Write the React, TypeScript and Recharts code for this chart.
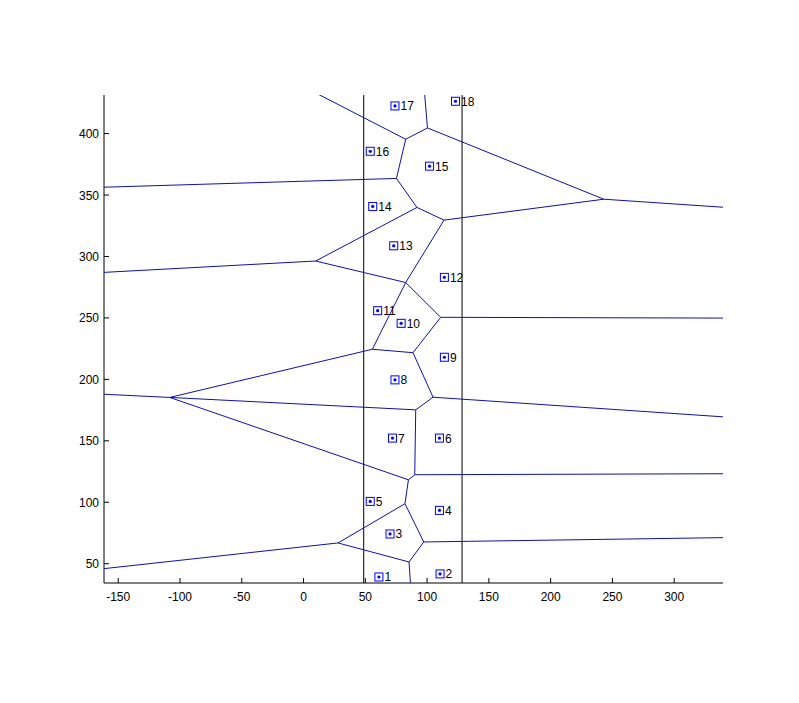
import { ScatterChart, Scatter, XAxis, YAxis, ReferenceLine } from "recharts";

// sites (generator points), numbered 1..18
const siteLabels = ["1", "2", "3", "4", "5", "6", "7", "8", "9", "10", "11", "12", "13", "14", "15", "16", "17", "18"];
const siteX = [61, 110.5, 70, 110, 54, 110, 72, 74, 114, 79, 60, 114, 73, 56, 102, 54, 74, 123];
const siteY = [39.2, 41.7, 74.2, 93.4, 100.7, 152.2, 152.2, 199.6, 218, 245.6, 255.9, 283, 308.7, 340.7, 373.5, 385.6, 422.5, 426.3];

// voronoi vertices (0..19 inside, 20..31 far ends of open edges)
const vertexX = [
  82.7, 100.3, 243, 75.2, 91.8, 113.7, 9.8, 82.7, 111, 55.7, 88.6, -108.3, 104.8, 90.8, 90, 84.9, 82.1, 97.3, 27.9, 85.4,
  -21.7, 95.9, -250, 400, -250, 400, 400, 400, -250, 400, -250, 87.5,
];
const vertexY = [
  395.4, 404.6, 346.6, 363.5, 339.9, 329.6, 296.3, 278.8, 250.5, 224.5, 221.7, 185.3, 185.5, 175.2, 122.4, 118.3, 98.8, 67.7, 66.9, 51.4,
  449.4, 458, 353.7, 336, 282.3, 249.7, 165.4, 123.4, 192.2, 72.1, 36.2, 18,
];
const edges = [
  [0, 20], [1, 21], [0, 1], [1, 2], [0, 3], [3, 22], [3, 4], [4, 5], [5, 2], [2, 23],
  [4, 6], [6, 24], [6, 7], [5, 7], [7, 8], [8, 25], [7, 9], [8, 10], [9, 10], [9, 11],
  [10, 12], [12, 26], [12, 13], [13, 11], [13, 14], [14, 27], [14, 15], [15, 11], [11, 28],
  [15, 16], [16, 17], [16, 18], [17, 29], [18, 30], [18, 19], [17, 19], [19, 31],
];

const boundsX = [48.7, 128.3];

const xTicks = [-150, -100, -50, 0, 50, 100, 150, 200, 250, 300];
const yTicks = [50, 100, 150, 200, 250, 300, 350, 400];

const FONT = '"Liberation Sans", Arial, sans-serif';
const EDGE = "#1010a8";
const MARK = "#0000ff";

const sites = siteX.map((x, i) => ({ x, y: siteY[i], label: siteLabels[i] }));
const segments = edges.map(([a, b]) => [
  { x: vertexX[a], y: vertexY[a] },
  { x: vertexX[b], y: vertexY[b] },
]);

function XTick({ x, y, payload }: any) {
  return (
    <g>
      <line x1={x} y1={y} x2={x} y2={y - 5} stroke="#000" />
      <text x={x} y={y + 18} textAnchor="middle" fontSize={12} fontFamily={FONT} fill="#000">
        {payload.value}
      </text>
    </g>
  );
}

function YTick({ x, y, payload }: any) {
  return (
    <g>
      <line x1={x} y1={y} x2={x + 5} y2={y} stroke="#000" />
      <text x={x - 5} y={y + 4.5} textAnchor="end" fontSize={12} fontFamily={FONT} fill="#000">
        {payload.value}
      </text>
    </g>
  );
}

function SiteMarker({ cx, cy, payload }: any) {
  return (
    <g>
      <rect x={cx - 4} y={cy - 4} width={8} height={8} fill="none" stroke={MARK} />
      <circle cx={cx} cy={cy} r={1.6} fill={MARK} />
      <text x={cx + 5.5} y={cy + 4.5} fontSize={12} fontFamily={FONT} fill="#000">
        {payload.label}
      </text>
    </g>
  );
}

export default function App() {
  return (
    <div style={{ width: 780, height: 680, background: "#fff" }}>
      <ScatterChart width={780} height={680} margin={{ top: 87, right: 65, bottom: 75, left: 0 }}>
        <XAxis
          type="number"
          dataKey="x"
          domain={[-161.5, 339.5]}
          ticks={xTicks}
          allowDataOverflow
          height={30}
          tickSize={0}
          tickMargin={0}
          axisLine={{ stroke: "#000" }}
          tick={<XTick />}
        />
        <YAxis
          type="number"
          dataKey="y"
          domain={[34.3, 431.4]}
          ticks={yTicks}
          allowDataOverflow
          width={96}
          tickSize={0}
          tickMargin={0}
          axisLine={{ stroke: "#000" }}
          tick={<YTick />}
        />
        {boundsX.map((bx) => (
          <ReferenceLine key={bx} x={bx} stroke="#000" strokeWidth={1} />
        ))}
        {segments.map((seg, i) => (
          <Scatter
            key={i}
            data={seg}
            line={{ stroke: EDGE, strokeWidth: 1 }}
            shape={() => <g />}
            isAnimationActive={false}
          />
        ))}
        <Scatter data={sites} shape={<SiteMarker />} isAnimationActive={false} />
      </ScatterChart>
    </div>
  );
}
